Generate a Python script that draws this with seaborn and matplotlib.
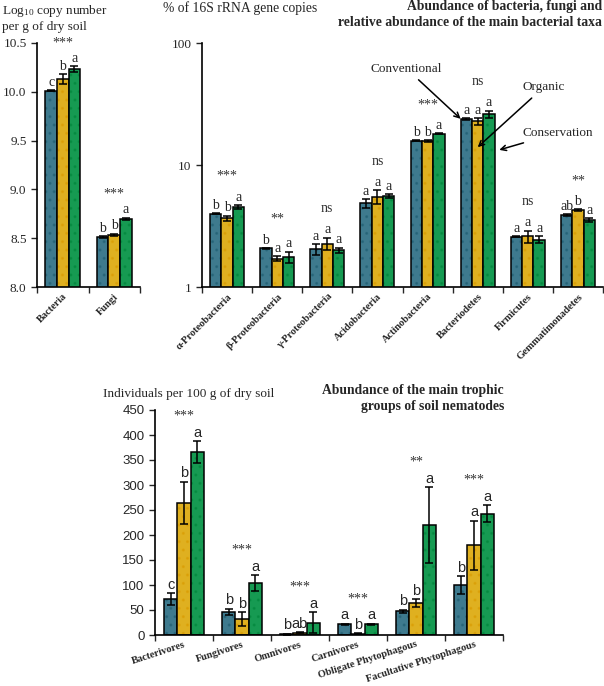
import numpy as np
import pandas as pd
import matplotlib
matplotlib.use("Agg")
import matplotlib.pyplot as plt
import matplotlib.colors as mcolors
import seaborn as sns

# ---- data ----
systems = ["Conventional", "Organic", "Conservation"]
colors = ["#31819B", "#FFC000", "#00B050"]
dot_colors = ["#1E5C70", "#D99A00", "#00843A"]

# bacteria / fungi (log10 copies per g)
bf_groups = ["Bacteria", "Fungi"]
bf_conv = [10.01, 8.51]
bf_org = [10.13, 8.535]
bf_cons = [10.235, 8.70]
bf_conv_err = [0.005, 0.01]
bf_org_err = [0.05, 0.01]
bf_cons_err = [0.03, 0.01]
bf_letters = [["c", "b", "a"], ["b", "b", "a"]]
bf_sig = ["***", "***"]

# bacterial taxa (% of 16S copies)
taxa = ["α-Proteobacteria", "β-Proteobacteria", "γ-Proteobacteria", "Acidobacteria",
        "Actinobacteria", "Bacteriodetes", "Firmicutes", "Gemmatimonadetes"]
tx_conv = [4.0, 2.07, 2.04, 4.85, 15.8, 23.9, 2.58, 3.88]
tx_org = [3.65, 1.71, 2.27, 5.5, 15.6, 22.8, 2.6, 4.27]
tx_cons = [4.54, 1.76, 2.0, 5.56, 18.0, 26.1, 2.45, 3.55]
tx_conv_err = [0.03, 0.02, 0.2, 0.4, 0.15, 0.3, 0.03, 0.05]
tx_org_err = [0.2, 0.08, 0.27, 0.7, 0.3, 1.5, 0.3, 0.05]
tx_cons_err = [0.17, 0.18, 0.1, 0.2, 0.2, 1.8, 0.15, 0.12]
tx_letters = [["b", "b", "a"], ["b", "a", "a"], ["a", "a", "a"], ["a", "a", "a"],
              ["b", "b", "a"], ["a", "a", "a"], ["a", "a", "a"], ["ab", "b", "a"]]
tx_sig = ["***", "**", "ns", "ns", "***", "ns", "ns", "**"]

# nematodes (individuals per 100 g)
nem_groups = ["Bacterivores", "Fungivores", "Omnivores", "Carnivores",
              "Obligate Phytophagous", "Facultative Phytophagous"]
nem_conv = [72, 47, 2, 22, 48, 100]
nem_org = [265, 32, 5, 3, 64, 180]
nem_cons = [366, 104, 25, 22, 220, 243]
nem_conv_err = [12, 6, 1, 1, 3, 18]
nem_org_err = [42, 14, 1, 1, 8, 49]
nem_cons_err = [22, 16, 21, 1, 76, 17]
nem_letters = [["c", "b", "a"], ["b", "b", "a"], ["b", "ab", "a"], ["a", "b", "a"],
               ["b", "b", "a"], ["b", "a", "a"]]
nem_sig = ["***", "***", "***", "***", "**", "***"]


def long_form(groups, conv, org, cons, conv_e, org_e, cons_e):
    rows = []
    for s, vals, errs in zip(systems, [conv, org, cons], [conv_e, org_e, cons_e]):
        for g, v, e in zip(groups, vals, errs):
            rows.append({"group": g, "system": s, "value": v, "err": e})
    return pd.DataFrame(rows)


sns.set_style("ticks")
plt.rcParams["font.family"] = ["Liberation Serif", "DejaVu Serif"]
plt.rcParams["mathtext.fontset"] = "custom"
plt.rcParams["mathtext.rm"] = "Liberation Serif"
plt.rcParams["mathtext.it"] = "Liberation Serif:italic"
plt.rcParams["mathtext.default"] = "rm"
plt.rcParams["hatch.linewidth"] = 1.0

fig = plt.figure(figsize=(6.04, 6.86), dpi=100)


def draw_panel(ax, df, groups, letters, sig, letter_font, letter_size, star_off):
    sns.barplot(data=df, x="group", y="value", hue="system", order=groups,
                hue_order=systems, palette=colors, width=0.68, errorbar=None,
                edgecolor="black", linewidth=1.1, legend=False, ax=ax)
    bars = {}
    for k, cont in enumerate(ax.containers):
        for j, p in enumerate(cont):
            p.set_hatch("..")
            p._hatch_color = mcolors.to_rgba(dot_colors[k], 0.5)
            bars[(j, k)] = p
    tops = {}
    for k, s in enumerate(systems):
        sub = df[df["system"] == s].set_index("group").loc[groups]
        xs = [bars[(j, k)].get_x() + bars[(j, k)].get_width() / 2 for j in range(len(groups))]
        ax.errorbar(xs, sub["value"], yerr=sub["err"], fmt="none", ecolor="black",
                    elinewidth=1.1, capsize=3, capthick=1.1, zorder=5)
        for j, (x, v, e) in enumerate(zip(xs, sub["value"], sub["err"])):
            tops[(j, k)] = v + e
            ax.annotate(letters[j][k], (x, v + e), xytext=(0, 1), textcoords="offset points",
                        ha="center", va="bottom", fontsize=letter_size, family=letter_font)
    for j, s in enumerate(sig):
        top = max(tops[(j, k)] for k in range(3))
        ax.annotate(s, (j, top), xytext=(0, star_off), textcoords="offset points",
                    ha="center", va="bottom", fontsize=10, color="#333333")
    ax.set_xlim(-0.5, len(groups) - 0.5)
    ax.set_xticks(np.arange(len(groups)))
    ax.set_xticks(np.arange(len(groups) + 1) - 0.5, minor=True)
    ax.tick_params(axis="x", which="major", length=0)
    ax.tick_params(axis="x", which="minor", length=4, width=1, direction="out")
    ax.tick_params(axis="y", length=4, width=1, direction="out")
    ax.set_xlabel("")
    ax.set_ylabel("")
    for sp in ["top", "right"]:
        ax.spines[sp].set_visible(False)
    for sp in ["left", "bottom"]:
        ax.spines[sp].set_linewidth(1.2)
        ax.spines[sp].set_color("black")
    return bars


# ---- top left: bacteria / fungi ----
ax1 = fig.add_axes([37 / 604, 1 - 287 / 686, 103 / 604, 244 / 686])
df_bf = long_form(bf_groups, bf_conv, bf_org, bf_cons, bf_conv_err, bf_org_err, bf_cons_err)
draw_panel(ax1, df_bf, bf_groups, bf_letters, bf_sig, "Liberation Serif", 10, 12)
ax1.set_ylim(8.0, 10.5)
ax1.set_yticks([8.0, 8.5, 9.0, 9.5, 10.0, 10.5])
ax1.set_yticklabels(["8.0", "8.5", "9.0", "9.5", "10.0", "10.5"], fontsize=9.5)
ax1.set_xticklabels(bf_groups, rotation=45, ha="right", rotation_mode="anchor",
                    fontsize=7.5, fontweight="bold")
fig.text(2 / 604, 1 - 3 / 686, "Log$_{10}$ copy number\nper g of dry soil", ha="left", va="top",
         fontsize=9.5, linespacing=1.2)

# ---- top right: bacterial taxa ----
ax2 = fig.add_axes([202 / 604, 1 - 287 / 686, 401 / 604, 244 / 686])
ax2.set_yscale("log")
df_tx = long_form(taxa, tx_conv, tx_org, tx_cons, tx_conv_err, tx_org_err, tx_cons_err)
bars2 = draw_panel(ax2, df_tx, taxa, tx_letters, tx_sig, "Liberation Serif", 10, 16)
ax2.set_ylim(1, 100)
ax2.set_yticks([1, 10, 100])
ax2.set_yticklabels(["1", "10", "100"], fontsize=9.5)
ax2.yaxis.set_minor_locator(matplotlib.ticker.NullLocator())
ax2.set_xticklabels(taxa, rotation=45, ha="right", rotation_mode="anchor",
                    fontsize=7.5, fontweight="bold")
fig.text(163 / 604, 1 - 1 / 686, "% of 16S rRNA gene copies", ha="left", va="top", fontsize=9.8)
fig.text(602 / 604, 1 - 0 / 686,
         "Abundance of bacteria, fungi and\nrelative abundance of the main bacterial taxa",
         ha="right", va="top", fontsize=9.8, fontweight="bold", linespacing=1.35)

# legend arrows pointing at the Bacteriodetes bars
bi = taxa.index("Bacteriodetes")
pb, po, pc = bars2[(bi, 0)], bars2[(bi, 1)], bars2[(bi, 2)]
arrow = dict(arrowstyle="->", color="black", lw=1.1, shrinkA=2, shrinkB=0)
ax2.annotate("Conventional", xy=(pb.get_x(), pb.get_height()), xytext=(0.51, 0.895),
             textcoords="axes fraction", ha="center", va="center", fontsize=9.5, arrowprops=arrow)
ax2.annotate("Organic", xy=(po.get_x() + po.get_width() / 2, 14), xytext=(0.80, 0.82),
             textcoords="axes fraction", ha="left", va="center", fontsize=9.5, arrowprops=arrow)
ax2.annotate("Conservation", xy=(pc.get_x() + pc.get_width() * 1.4, 13.3), xytext=(0.80, 0.632),
             textcoords="axes fraction", ha="left", va="center", fontsize=9.5, arrowprops=arrow)

# ---- bottom: nematodes ----
ax3 = fig.add_axes([155 / 604, 1 - 635 / 686, 348 / 604, 225 / 686])
df_nem = long_form(nem_groups, nem_conv, nem_org, nem_cons, nem_conv_err, nem_org_err, nem_cons_err)
draw_panel(ax3, df_nem, nem_groups, nem_letters, nem_sig, "Liberation Sans", 10.5, 13)
ax3.set_ylim(0, 450)
ax3.set_yticks(np.arange(0, 451, 50))
ax3.set_yticklabels([str(v) for v in range(0, 451, 50)], fontsize=9.5, family="Liberation Sans")
ax3.set_xticklabels(nem_groups, rotation=18, ha="right", rotation_mode="anchor",
                    fontsize=7.5, fontweight="bold")
fig.text(103 / 604, 1 - 394 / 686, "Individuals per 100 g of dry soil", ha="left", va="center",
         fontsize=9.5)
fig.text(504 / 604, 1 - 384 / 686, "Abundance of the main trophic\ngroups of soil nematodes",
         ha="right", va="top", fontsize=9.8, fontweight="bold", linespacing=1.3)

fig.savefig("out.png", dpi=100)
